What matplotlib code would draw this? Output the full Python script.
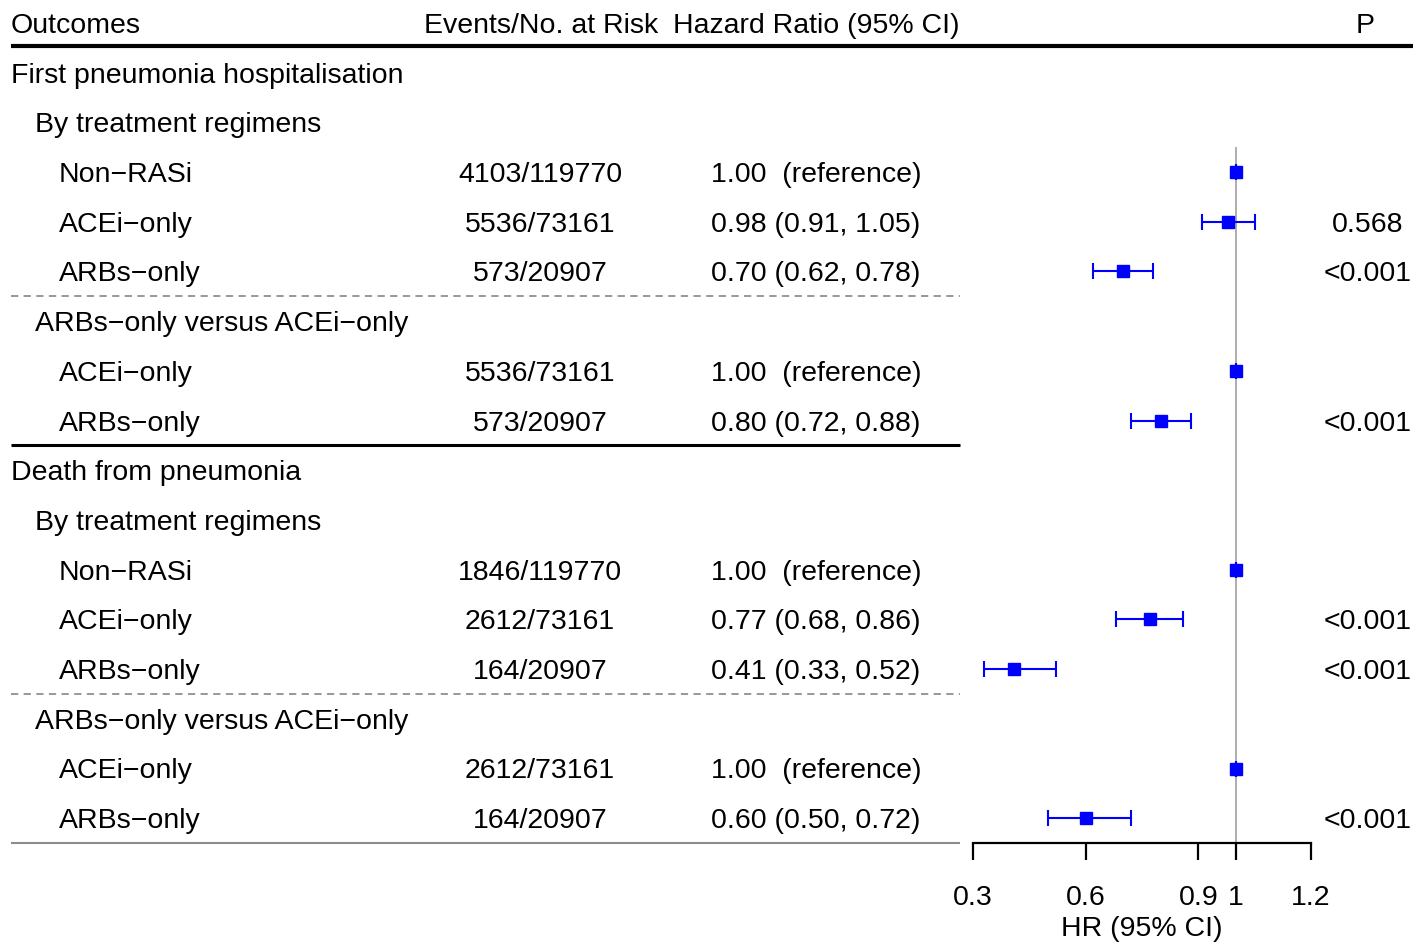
import numpy as np
import matplotlib
matplotlib.use("Agg")
import matplotlib.pyplot as plt

plt.rcParams['font.family'] = ['Liberation Sans', 'DejaVu Sans']

# rows of the table (label, indent level)
labels = ["First pneumonia hospitalisation", "By treatment regimens",
          "Non\u2212RASi", "ACEi\u2212only", "ARBs\u2212only",
          "ARBs\u2212only versus ACEi\u2212only", "ACEi\u2212only", "ARBs\u2212only",
          "Death from pneumonia", "By treatment regimens",
          "Non\u2212RASi", "ACEi\u2212only", "ARBs\u2212only",
          "ARBs\u2212only versus ACEi\u2212only", "ACEi\u2212only", "ARBs\u2212only"]
indent = [0, 1, 2, 2, 2, 1, 2, 2, 0, 1, 2, 2, 2, 1, 2, 2]
events = ["", "", "4103/119770", "5536/73161", "573/20907", "", "5536/73161", "573/20907",
          "", "", "1846/119770", "2612/73161", "164/20907", "", "2612/73161", "164/20907"]
hr_text = ["", "", "1.00  (reference)", "0.98 (0.91, 1.05)", "0.70 (0.62, 0.78)", "",
           "1.00  (reference)", "0.80 (0.72, 0.88)",
           "", "", "1.00  (reference)", "0.77 (0.68, 0.86)", "0.41 (0.33, 0.52)", "",
           "1.00  (reference)", "0.60 (0.50, 0.72)"]
pvals = ["", "", "", "0.568", "<0.001", "", "", "<0.001",
         "", "", "", "<0.001", "<0.001", "", "", "<0.001"]
hr = [np.nan, np.nan, 1.00, 0.98, 0.70, np.nan, 1.00, 0.80,
      np.nan, np.nan, 1.00, 0.77, 0.41, np.nan, 1.00, 0.60]
lo = [np.nan, np.nan, 1.00, 0.91, 0.62, np.nan, 1.00, 0.72,
      np.nan, np.nan, 1.00, 0.68, 0.33, np.nan, 1.00, 0.50]
hi = [np.nan, np.nan, 1.00, 1.05, 0.78, np.nan, 1.00, 0.88,
      np.nan, np.nan, 1.00, 0.86, 0.52, np.nan, 1.00, 0.72]
xticks = [0.3, 0.6, 0.9, 1, 1.2]

W, H = 1427, 946
fs = 20.5
row0, rowh = 23, 49.7  # pixel centre of header row, row height
ytop, ybot = -row0 / rowh, (H - row0) / rowh
dy = 0.06  # small downward nudge so text sits on the marker line

fig = plt.figure(figsize=(W / 100, H / 100), dpi=100)
ax = fig.add_axes([0, 0, 1, 1])
ax.set_xlim(0, W)
ax.set_ylim(ybot, ytop)
ax.axis('off')

# header
ax.text(11, dy, "Outcomes", fontsize=fs, va='center', ha='left')
ax.text(541, dy, "Events/No. at Risk", fontsize=fs, va='center', ha='center')
ax.text(816, dy, "Hazard Ratio (95% CI)", fontsize=fs, va='center', ha='center')
ax.text(1365, dy, "P", fontsize=fs, va='center', ha='center')
ax.plot([11, 1413], [0.47, 0.47], color='black', lw=3, solid_capstyle='butt')

rows = np.arange(1, len(labels) + 1)
for r, lab, ind, ev, ht, p in zip(rows, labels, indent, events, hr_text, pvals):
    ax.text(11 + 24 * ind, r + dy, lab, fontsize=fs, va='center', ha='left')
    if ev:
        ax.text(540, r + dy, ev, fontsize=fs, va='center', ha='center')
    if ht:
        ax.text(711, r + dy, ht, fontsize=fs, va='center', ha='left')
    if p:
        ax.text(1368, r + dy, p, fontsize=fs, va='center', ha='center')

# separators
ax.plot([11, 960], [5.5, 5.5], color='#909090', lw=1.3, ls=(0, (4, 3)))
ax.plot([11, 960], [13.5, 13.5], color='#909090', lw=1.3, ls=(0, (4, 3)))
ax.plot([11, 960], [8.5, 8.5], color='black', lw=2.2, solid_capstyle='butt')
ax.plot([11, 960], [16.5, 16.5], color='#8c8c8c', lw=1.5, solid_capstyle='butt')

# forest panel
x0, x1 = 973, 1311
ptop = row0 + rowh * 2.5
pbot = row0 + rowh * 16.5
axf = fig.add_axes([x0 / W, (H - pbot) / H, (x1 - x0) / W, (pbot - ptop) / H])
axf.set_xlim(0.3, 1.2)
axf.set_ylim(16.5, 2.5)
axf.patch.set_alpha(0)
for s in ['top', 'right', 'left']:
    axf.spines[s].set_visible(False)
axf.spines['bottom'].set_linewidth(1.6)
axf.set_yticks([])
axf.set_xticks(xticks)
axf.set_xticklabels(["0.3", "0.6", "0.9", "1", "1.2"])
axf.tick_params(axis='x', length=12.5, width=1.6, pad=18, labelsize=fs)
axf.set_xlabel("HR (95% CI)", fontsize=fs, labelpad=3)
axf.axvline(1, color='#a0a0a0', lw=1.2, zorder=1)

hr_a, lo_a, hi_a = np.array(hr), np.array(lo), np.array(hi)
m = ~np.isnan(hr_a)
axf.errorbar(hr_a[m], rows[m], xerr=[hr_a[m] - lo_a[m], hi_a[m] - hr_a[m]],
             fmt='s', color='blue', ms=9, ecolor='blue', elinewidth=1.5,
             capsize=6, capthick=1.5, clip_on=False, zorder=3)

fig.savefig("out.png", dpi=100)
